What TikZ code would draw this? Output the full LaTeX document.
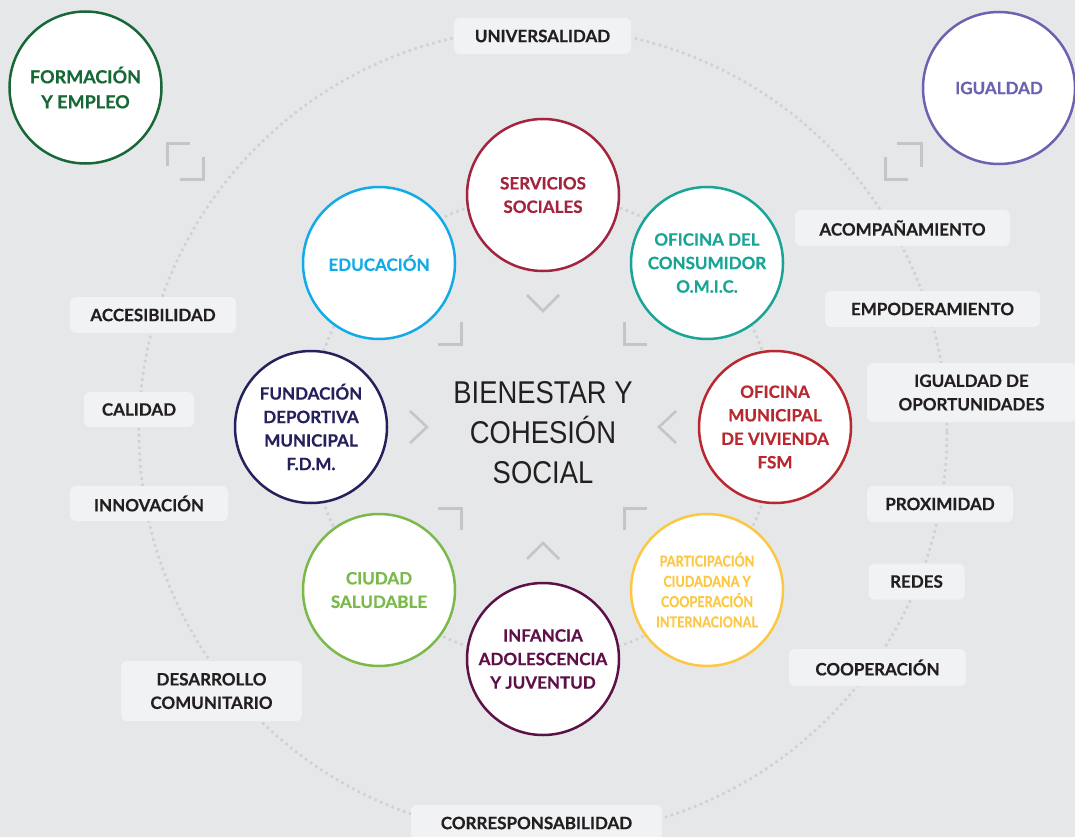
\documentclass[tikz,border=0pt]{standalone}
\usepackage{fontspec}
\setmainfont{Lato}[BoldFeatures={FakeBold=0.5}]
\newfontfamily\helv{Liberation Sans}
\usepackage{graphicx}
\definecolor{bg}{HTML}{E6E7E9}
\definecolor{boxc}{HTML}{F1F2F4}
\definecolor{ink}{HTML}{231F20}
\definecolor{dotc}{HTML}{D0D1D4}
\definecolor{markc}{HTML}{C4C5C7}
\definecolor{cfe}{HTML}{176837}
\definecolor{cig}{HTML}{6B62B0}
\definecolor{css}{HTML}{A3243F}
\definecolor{coc}{HTML}{19A595}
\definecolor{cov}{HTML}{B8282E}
\definecolor{cpc}{HTML}{FCC844}
\definecolor{cia}{HTML}{5E1148}
\definecolor{ccs}{HTML}{7AB94A}
\definecolor{cfd}{HTML}{25215C}
\definecolor{ced}{HTML}{13ABE6}
\newcommand\cfnt{\fontsize{17}{23.5}\selectfont\bfseries}
\newcommand\bigcfnt{\fontsize{18}{25}\selectfont\bfseries}
\newcommand\smcfnt{\fontsize{15}{20.3}\selectfont\bfseries}
\newcommand\lfnt{\fontsize{17}{23.5}\selectfont\bfseries}
\newcommand\mfnt{\helv\fontsize{31.5}{40}\selectfont}
\newcommand\cnd[1]{\scalebox{0.84}[1]{#1}}
\newcommand\hnd[1]{\scalebox{0.87}[1]{#1}}
\begin{document}
\begin{tikzpicture}[x=1pt,y=-1pt,
  dotring/.style={draw=dotc, line width=2.6pt, dash pattern=on 2.6pt off 3.6pt},
  unit/.style={circle, draw=#1, line width=2.5pt, fill=white, minimum size=152pt,
    inner sep=0pt, text=#1, align=center, font=\cfnt},
  lbl/.style={rounded corners=6pt, fill=boxc, text=ink, align=center, inner sep=0pt, font=\lfnt},
  markline/.style={draw=markc, line width=3pt},
  chev/.style={draw=markc, line width=2.6pt}]
\fill[bg] (0,0) rectangle (1075,837);
\useasboundingbox (0,0) rectangle (1075,837);

% dotted rings
\draw[dotring] (543,432) circle[radius=404];
\draw[dotring] (543,427) circle[radius=232];

% label boxes
\node[lbl, minimum width=177pt, minimum height=36pt] (l1) at (542.5,36) {UNIVERSALIDAD};
\node[lbl, minimum width=215pt, minimum height=36pt] (l2) at (902.5,228) {ACOMPAÑAMIENTO};
\node[lbl, minimum width=215pt, minimum height=36pt] (l3) at (932.5,309) {EMPODERAMIENTO};
\node[lbl, minimum width=209pt, minimum height=59pt] (l4) at (971.5,392.5) {IGUALDAD DE\\OPORTUNIDADES};
\node[lbl, minimum width=146pt, minimum height=36pt] (l5) at (940,504) {PROXIMIDAD};
\node[lbl, minimum width=96pt, minimum height=36pt] (l6) at (916.5,581.5) {REDES};
\node[lbl, minimum width=177pt, minimum height=37pt] (l7) at (877.5,667.5) {COOPERACIÓN};
\node[lbl, minimum width=251pt, minimum height=36pt] (l8) at (536.5,823) {CORRESPONSABILIDAD};
\node[lbl, minimum width=181pt, minimum height=60pt] (l9) at (211.5,691) {DESARROLLO\\COMUNITARIO};
\node[lbl, minimum width=158pt, minimum height=35pt] (l10) at (149,503.5) {INNOVACIÓN};
\node[lbl, minimum width=110pt, minimum height=35pt] (l11) at (139,409.5) {CALIDAD};
\node[lbl, minimum width=166pt, minimum height=36pt] (l12) at (153,315) {ACCESIBILIDAD};

% corner circles
\node[unit=cfe, font=\bigcfnt] (fe) at (85.5,87.5) {FORMACIÓN\\Y EMPLEO};
\node[unit=cig, font=\fontsize{17}{24}\selectfont\bfseries] (ig) at (999,88) {IGUALDAD};

% ring circles
\node[unit=css] (ss) at (543,195) {SERVICIOS\\SOCIALES};
\node[unit=coc] (oc) at (707,263) {OFICINA DEL\\CONSUMIDOR\\O.M.I.C.};
\node[unit=cov] (ov) at (775,427) {OFICINA\\MUNICIPAL\\DE VIVIENDA\\FSM};
\node[unit=cpc, font=\smcfnt] (pc) at (707,590) {\cnd{PARTICIPACIÓN}\\\cnd{CIUDADANA Y}\\\cnd{COOPERACIÓN}\\\cnd{INTERNACIONAL}};
\node[unit=cia] (ia) at (543,659) {INFANCIA\\ADOLESCENCIA\\Y JUVENTUD};
\node[unit=ccs] (cs) at (379,590) {CIUDAD\\SALUDABLE};
\node[unit=cfd] (fd) at (311,427) {FUNDACIÓN\\DEPORTIVA\\MUNICIPAL\\F.D.M.};
\node[unit=ced] (ed) at (379,263) {EDUCACIÓN};

% centre text
\node[text=ink, align=center, font=\mfnt, inner sep=0pt] (core) at (543,433) {\hnd{BIENESTAR Y}\\\hnd{COHESIÓN}\\\hnd{SOCIAL}};

% corner marks (top-left and top-right)
\draw[markline] (167,166) -- (167,144) -- (190,144);
\draw[markline] (180,180) -- (203,180) -- (203,157);
\draw[markline] (885,157) -- (885,180) -- (908,180);
\draw[markline] (897,144) -- (921,144) -- (921,167);

% centre marks
\draw[chev] (527,295) -- (543,311) -- (559,295);
\draw[markline] (461,322) -- (461,344) -- (438,344);
\draw[markline] (624,322) -- (624,344) -- (647,344);
\draw[chev] (410,411) -- (427,427) -- (410,443);
\draw[chev] (676,411) -- (659,427) -- (676,443);
\draw[markline] (438,508) -- (461,508) -- (461,530);
\draw[markline] (647,508) -- (624,508) -- (624,530);
\draw[chev] (527,559) -- (543,543) -- (559,559);
\end{tikzpicture}
\end{document}
